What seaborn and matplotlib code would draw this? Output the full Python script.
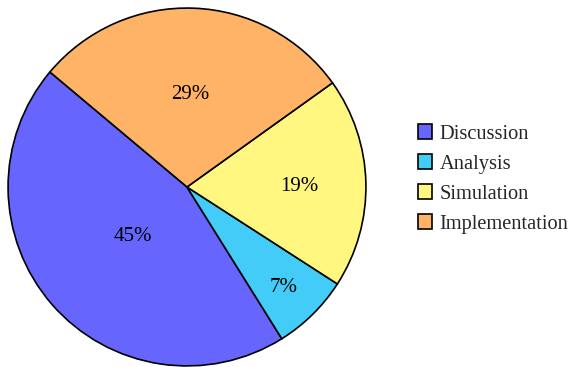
import matplotlib
matplotlib.use('Agg')
import matplotlib.pyplot as plt
import seaborn as sns
import numpy as np

# data
labels = ['Discussion', 'Analysis', 'Simulation', 'Implementation']
shares = [45, 7, 19, 29]
colors = ['#6666ff', '#44ccf8', '#fff780', '#ffb366']

sns.set_theme(style='white')
plt.rcParams['font.family'] = ['Liberation Serif', 'DejaVu Serif']

fig = plt.figure(figsize=(5.74, 3.67), dpi=100)
ax = fig.add_axes([7 / 574, 0 / 367, 360 / 574, 360 / 367])

wedges, texts, autotexts = ax.pie(
    shares, colors=colors, startangle=140, counterclock=True,
    autopct='%d%%', pctdistance=0.5,
    wedgeprops=dict(edgecolor='black', linewidth=1.2),
    textprops=dict(fontsize=15, color='black'))

# nudge percentage labels to match the reference placement
pct_dist = [0.4, 0.77, 0.63, 0.53]
for w, t, d in zip(wedges, autotexts, pct_dist):
    ang = np.deg2rad((w.theta1 + w.theta2) / 2)
    t.set_position((d * np.cos(ang), d * np.sin(ang) - 0.015))

ax.set_xlim(-1.006, 1.006)
ax.set_ylim(-1.006, 1.006)
ax.set_aspect('equal')

fig.legend(wedges, labels, loc='center left', bbox_to_anchor=(418 / 574, 1 - 179 / 367),
           frameon=False, fontsize=14.7, handlelength=0.7, handleheight=0.7,
           handletextpad=0.35, labelspacing=0.52, borderpad=0, borderaxespad=0)

fig.savefig('out.png', dpi=100)
